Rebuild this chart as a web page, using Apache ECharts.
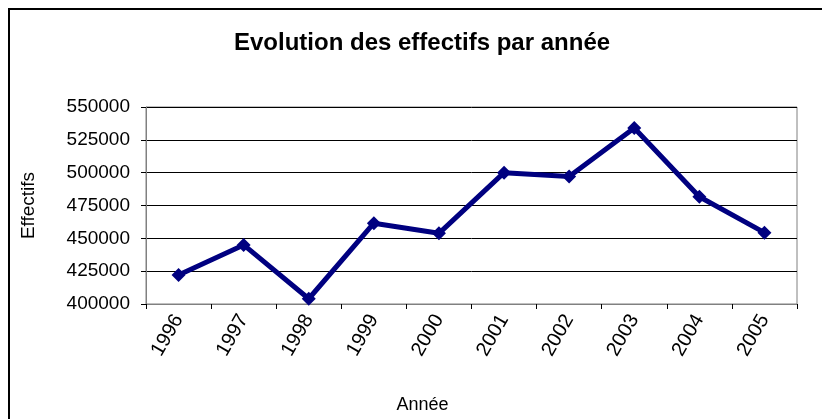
<!DOCTYPE html>
<html>
<head>
<meta charset="utf-8">
<script src="https://cdn.jsdelivr.net/npm/echarts@6/dist/echarts.min.js"></script>
<style>
  html, body { margin: 0; padding: 0; background: #fff; }
  #chart { width: 822px; height: 419px; }
</style>
</head>
<body>
<div id="chart"></div>
<script>
  const annees = ['1996', '1997', '1998', '1999', '2000', '2001', '2002', '2003', '2004', '2005'];
  const effectifs = [422000, 445000, 404000, 461500, 453800, 500000, 497000, 534000, 481700, 454300];

  const chart = echarts.init(document.getElementById('chart'));
  const police = 'Liberation Sans, Arial, sans-serif';

  chart.setOption({
    animation: false,
    title: {
      text: 'Evolution des effectifs par année',
      left: 229,
      top: 26,
      textStyle: { fontFamily: police, fontSize: 24, fontWeight: 'bold', color: '#000' }
    },
    graphic: [{
      type: 'rect',
      shape: { x: 9, y: 9, width: 840, height: 440 },
      style: { fill: 'none', stroke: '#000', lineWidth: 2 },
      silent: true
    }],
    grid: {
      left: 146, right: 25, top: 107, bottom: 115,
      show: true, borderColor: '#808080', borderWidth: 1
    },
    xAxis: {
      type: 'category',
      data: annees,
      boundaryGap: true,
      name: 'Année',
      nameLocation: 'middle',
      nameGap: 92,
      nameTextStyle: { fontFamily: police, fontSize: 18, color: '#000', padding: [0, 98, 0, 0] },
      axisLine: { lineStyle: { color: '#808080' } },
      axisTick: { show: true, length: 5, lineStyle: { color: '#000' } },
      axisLabel: { rotate: 60, margin: 12, fontFamily: police, fontSize: 20, color: '#000' },
      splitLine: { show: false }
    },
    yAxis: {
      type: 'value',
      min: 400000,
      max: 550000,
      interval: 25000,
      name: 'Effectifs',
      nameLocation: 'middle',
      nameGap: 108,
      nameTextStyle: { fontFamily: police, fontSize: 19, color: '#000' },
      axisLine: { show: true, lineStyle: { color: '#808080' } },
      axisTick: { show: true, inside: false, length: 5, lineStyle: { color: '#000' } },
      axisLabel: { margin: 16, fontFamily: police, fontSize: 19, color: '#000', formatter: v => String(v) },
      splitLine: { lineStyle: { color: '#000', width: 1 } }
    },
    series: [{
      type: 'line',
      data: effectifs,
      symbol: 'diamond',
      symbolSize: 14,
      lineStyle: { color: '#000080', width: 5 },
      itemStyle: { color: '#000080' }
    }]
  });
</script>
</body>
</html>
